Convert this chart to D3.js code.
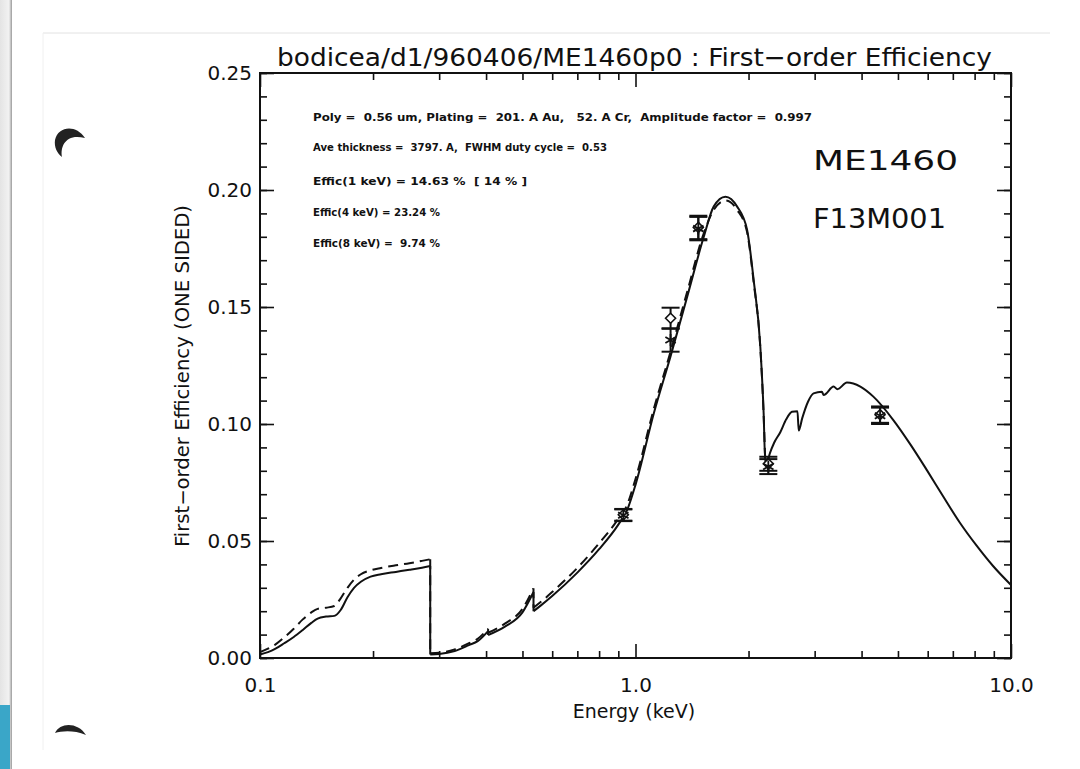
<!DOCTYPE html>
<html>
<head>
<meta charset="utf-8">
<script src="https://cdn.jsdelivr.net/npm/d3@7"></script>
<style>
  body { margin: 0; background: #fff; }
  svg text { white-space: pre; }
</style>
</head>
<body>
<svg id="chart"></svg>
<script>
// model curves (solid = fit, dashed = nominal), energy in keV
var solidE = [0.1, 0.105, 0.11, 0.116, 0.123, 0.13, 0.137, 0.1424, 0.15, 0.1577, 0.164, 0.171, 0.178, 0.1856, 0.197, 0.21, 0.23, 0.25, 0.27, 0.284,
  0.284, 0.30, 0.33, 0.36, 0.38, 0.405, 0.405, 0.45, 0.5, 0.535, 0.535, 0.56, 0.6, 0.7, 0.8, 0.9, 0.95, 1.0, 1.119, 1.239, 1.373, 1.52, 1.615, 1.736, 1.865, 1.982, 2.064, 2.15, 2.194, 2.217,
  2.24, 2.28, 2.34, 2.43, 2.52, 2.61, 2.70, 2.72, 2.78, 2.88, 2.98, 3.136, 3.17, 3.37, 3.45, 3.656, 3.97, 4.3, 4.86, 5.4, 5.97, 6.6, 7.31, 8.1, 8.97, 10.0];
var solidV = [0.0015, 0.0025, 0.004, 0.0063, 0.009, 0.012, 0.015, 0.0168, 0.0177, 0.018, 0.0205, 0.026, 0.030, 0.0326, 0.0348, 0.0358, 0.0368, 0.0377, 0.0386, 0.0393,
  0.0015, 0.0017, 0.003, 0.0055, 0.0072, 0.0115, 0.0098, 0.0135, 0.0195, 0.0282, 0.0200, 0.0225, 0.0265, 0.0365, 0.0465, 0.057, 0.0632, 0.074, 0.1046, 0.1288, 0.1544, 0.180, 0.1929, 0.1971, 0.1929, 0.183, 0.1615, 0.133, 0.1047, 0.083,
  0.0835, 0.0875, 0.0920, 0.0965, 0.1020, 0.1052, 0.1055, 0.0972, 0.1025, 0.1095, 0.1131, 0.1138, 0.1124, 0.116, 0.1149, 0.1177, 0.116, 0.1117, 0.1017, 0.0912, 0.0803, 0.0690, 0.0578, 0.0480, 0.0392, 0.0312];
var dashedE = [0.1, 0.105, 0.11, 0.116, 0.123, 0.13, 0.137, 0.1424, 0.15, 0.1577, 0.164, 0.171, 0.178, 0.1856, 0.197, 0.21, 0.23, 0.25, 0.27, 0.284,
  0.284, 0.30, 0.33, 0.36, 0.38, 0.405, 0.405, 0.45, 0.5, 0.535, 0.535, 0.56, 0.6, 0.7, 0.8, 0.9, 0.95, 1.0, 1.119, 1.239, 1.373, 1.52, 1.615, 1.736, 1.865, 1.982, 2.064, 2.15, 2.194, 2.217];
var dashedV = [0.0025, 0.004, 0.0058, 0.0088, 0.0125, 0.0165, 0.0195, 0.021, 0.0215, 0.0222, 0.0255, 0.030, 0.0335, 0.0358, 0.0375, 0.0385, 0.0396, 0.0405, 0.0415, 0.0422,
  0.002, 0.0022, 0.0037, 0.0063, 0.0082, 0.0125, 0.0108, 0.0148, 0.021, 0.0298, 0.0215, 0.024, 0.0282, 0.0385, 0.049, 0.0595, 0.0655, 0.0765, 0.1065, 0.1308, 0.1565, 0.1815, 0.1915, 0.1955, 0.1915, 0.182, 0.1605, 0.1325, 0.104, 0.083];

// measurements with error bars
var diamondE = [0.928, 1.24, 1.47, 2.258, 4.48];
var diamondV = [0.0612, 0.1452, 0.1840, 0.0830, 0.1040];
var diamondErr = [0.0025, 0.0045, 0.0050, 0.0030, 0.0035];
var starE = [0.928, 1.24, 1.47, 2.258, 4.48];
var starV = [0.0610, 0.1359, 0.1835, 0.0818, 0.1035];
var starErr = [0.0025, 0.0050, 0.0050, 0.0032, 0.0035];

var xMajor = [0.1, 1, 10];
var xMinor = [0.2, 0.3, 0.4, 0.5, 0.6, 0.7, 0.8, 0.9, 2, 3, 4, 5, 6, 7, 8, 9];
var yMajor = [0, 0.05, 0.10, 0.15, 0.20, 0.25];
var yMinor = d3.range(0, 26).map(function(i){ return i / 100; });

var notes = [
  "Poly =  0.56 um, Plating =  201. A Au,   52. A Cr,  Amplitude factor =  0.997",
  "Ave thickness =  3797. A,  FWHM duty cycle =  0.53",
  "Effic(1 keV) = 14.63 %  [ 14 % ]",
  "Effic(4 keV) = 23.24 %",
  "Effic(8 keV) =  9.74 %"
];
var noteY = [121, 151, 185, 216, 247];

var w = 1080;
var h = 769;
var margin = { top: 73, bottom: 110, left: 260, right: 69 };

var svg = d3.select("#chart")
  .attr("width", w)
  .attr("height", h)
  .style("display", "block");

// scanned page backdrop
var grad = svg.append("defs").append("linearGradient")
  .attr("id", "edge").attr("x1", 0).attr("x2", 1);
grad.append("stop").attr("offset", "0%").attr("stop-color", "#e4e4e4");
grad.append("stop").attr("offset", "75%").attr("stop-color", "#f2f2f2");
grad.append("stop").attr("offset", "100%").attr("stop-color", "#9a9a9a");
svg.append("rect").attr("x", 0).attr("y", 0).attr("width", 12).attr("height", h).attr("fill", "url(#edge)");
svg.append("rect").attr("x", 0).attr("y", 705).attr("width", 10).attr("height", 64).attr("fill", "#3aa6c8");
svg.append("line").attr("x1", 43).attr("x2", 1050).attr("y1", 33).attr("y2", 33).attr("stroke", "#e2e2e2");
svg.append("line").attr("x1", 43).attr("x2", 43).attr("y1", 33).attr("y2", 750).attr("stroke", "#f0f0f0");
svg.append("path")
  .attr("d", "M85,138 C76,124 58,126 55,140 C54,147 57,153 62,157 C60,146 66,133 85,138Z")
  .attr("fill", "#222");
svg.append("path")
  .attr("d", "M86,735 C78,722 60,722 55,733 C62,731 74,730 86,735Z")
  .attr("fill", "#222");

var xScale = d3.scaleLog()
  .domain([0.1, 10])
  .range([margin.left, w - margin.right]);
var yScale = d3.scaleLinear()
  .domain([0, 0.25])
  .range([h - margin.bottom - 1, margin.top]);

var x0 = margin.left, x1 = w - margin.right;
var y0 = h - margin.bottom - 1, y1 = margin.top;

function addAxis(axis, tx, ty) {
  var g = svg.append("g")
    .attr("class", "axis")
    .attr("transform", "translate(" + tx + "," + ty + ")")
    .call(axis);
  g.select(".domain").remove();
  g.selectAll("line").attr("stroke", "#111").attr("stroke-width", 1.6);
  return g;
}

addAxis(d3.axisBottom(xScale).tickValues(xMajor).tickSize(-14).tickPadding(20).tickFormat(d3.format(".1f")), 0, y0)
  .selectAll("text").attr("font-size", 20).attr("font-family", "DejaVu Sans").attr("fill", "#111");
addAxis(d3.axisBottom(xScale).tickValues(xMinor).tickSize(-7).tickFormat(""), 0, y0);
addAxis(d3.axisTop(xScale).tickValues(xMajor).tickSize(-14).tickFormat(""), 0, y1);
addAxis(d3.axisTop(xScale).tickValues(xMinor).tickSize(-7).tickFormat(""), 0, y1);
addAxis(d3.axisLeft(yScale).tickValues(yMajor).tickSize(-14).tickPadding(8).tickFormat(d3.format(".2f")), x0, 0)
  .selectAll("text").attr("font-size", 20).attr("font-family", "DejaVu Sans").attr("fill", "#111");
addAxis(d3.axisLeft(yScale).tickValues(yMinor).tickSize(-7).tickFormat(""), x0, 0);
addAxis(d3.axisRight(yScale).tickValues(yMajor).tickSize(-14).tickFormat(""), x1, 0);
addAxis(d3.axisRight(yScale).tickValues(yMinor).tickSize(-7).tickFormat(""), x1, 0);

svg.append("rect")
  .attr("x", x0).attr("y", y1)
  .attr("width", x1 - x0).attr("height", y0 - y1)
  .attr("fill", "none").attr("stroke", "#111").attr("stroke-width", 2);

// split at absorption edges (repeated energy) and smooth each piece
function pieces(E, V) {
  var out = [], cur = [];
  E.forEach(function(e, i){
    if (i > 0 && e === E[i - 1]) {
      out.push(cur);
      cur = [[E[i - 1], V[i - 1]]];
      out.push(cur.concat([[e, V[i]]]));
      cur = [];
    }
    cur.push([e, V[i]]);
  });
  out.push(cur);
  return out;
}

var smooth = d3.line()
  .x(function(d){ return xScale(d[0]); })
  .y(function(d){ return yScale(d[1]); })
  .curve(d3.curveMonotoneX);
var straight = d3.line()
  .x(function(d){ return xScale(d[0]); })
  .y(function(d){ return yScale(d[1]); });

function drawCurve(E, V, dash) {
  var d = pieces(E, V).map(function(p){
    return p.length === 2 && p[0][0] === p[1][0] ? straight(p) : smooth(p);
  }).join("");
  svg.append("path")
    .attr("d", d)
    .attr("fill", "none").attr("stroke", "#111").attr("stroke-width", 2)
    .attr("stroke-linejoin", "round")
    .attr("stroke-dasharray", dash);
}
drawCurve(dashedE, dashedV, "10,6");
drawCurve(solidE, solidV, null);

function errorBars(E, V, err) {
  var g = svg.append("g").attr("stroke", "#111").attr("stroke-width", 2);
  E.forEach(function(e, i){
    var cx = xScale(e), top = yScale(V[i] + err[i]), bot = yScale(V[i] - err[i]);
    g.append("line").attr("x1", cx).attr("x2", cx).attr("y1", top).attr("y2", bot);
    g.append("line").attr("x1", cx - 9).attr("x2", cx + 9).attr("y1", top).attr("y2", top);
    g.append("line").attr("x1", cx - 9).attr("x2", cx + 9).attr("y1", bot).attr("y2", bot);
  });
}
errorBars(diamondE, diamondV, diamondErr);
errorBars(starE, starV, starErr);

svg.append("g").selectAll("path")
  .data(diamondE.map(function(e, i){ return [e, diamondV[i]]; }))
  .join("path")
  .attr("transform", function(d){ return "translate(" + xScale(d[0]) + "," + yScale(d[1]) + ")"; })
  .attr("d", "M0,-5L5,0L0,5L-5,0Z")
  .attr("fill", "#fff").attr("stroke", "#111").attr("stroke-width", 1.6);

svg.append("g").selectAll("path")
  .data(starE.map(function(e, i){ return [e, starV[i]]; }))
  .join("path")
  .attr("transform", function(d){ return "translate(" + xScale(d[0]) + "," + yScale(d[1]) + ")"; })
  .attr("d", "M0,-6V6M-5.2,-3L5.2,3M-5.2,3L5.2,-3")
  .attr("fill", "none").attr("stroke", "#111").attr("stroke-width", 1.8);

svg.append("text")
  .attr("x", 277).attr("y", 66)
  .attr("font-family", "DejaVu Sans").attr("font-size", 25).attr("fill", "#111")
  .attr("textLength", 715).attr("lengthAdjust", "spacingAndGlyphs")
  .text("bodicea/d1/960406/ME1460p0 : First\u2212order Efficiency");

svg.append("text")
  .attr("x", 634).attr("y", 718)
  .attr("text-anchor", "middle")
  .attr("font-family", "DejaVu Sans").attr("font-size", 19).attr("fill", "#111")
  .text("Energy (keV)");

svg.append("text")
  .attr("transform", "translate(189,376) rotate(-90)")
  .attr("text-anchor", "middle")
  .attr("font-family", "DejaVu Sans Condensed, DejaVu Sans").attr("font-size", 19).attr("fill", "#111")
  .attr("textLength", 342).attr("lengthAdjust", "spacingAndGlyphs")
  .text("First\u2212order Efficiency (ONE SIDED)");

var noteW = [499, 294, 214, 127, 127];
svg.append("g").selectAll("text")
  .data(notes)
  .join("text")
  .attr("x", 313)
  .attr("y", function(d, i){ return noteY[i]; })
  .attr("font-family", "DejaVu Sans").attr("font-weight", "bold").attr("font-size", 10.5).attr("fill", "#111")
  .attr("textLength", function(d, i){ return noteW[i]; })
  .attr("lengthAdjust", "spacingAndGlyphs")
  .text(function(d){ return d; });

svg.append("text")
  .attr("x", 813).attr("y", 170)
  .attr("font-family", "DejaVu Sans").attr("font-size", 27).attr("fill", "#111")
  .attr("textLength", 145).attr("lengthAdjust", "spacingAndGlyphs")
  .text("ME1460");
svg.append("text")
  .attr("x", 813).attr("y", 228)
  .attr("font-family", "DejaVu Sans").attr("font-size", 27).attr("fill", "#111")
  .attr("textLength", 133).attr("lengthAdjust", "spacingAndGlyphs")
  .text("F13M001");
</script>
</body>
</html>
